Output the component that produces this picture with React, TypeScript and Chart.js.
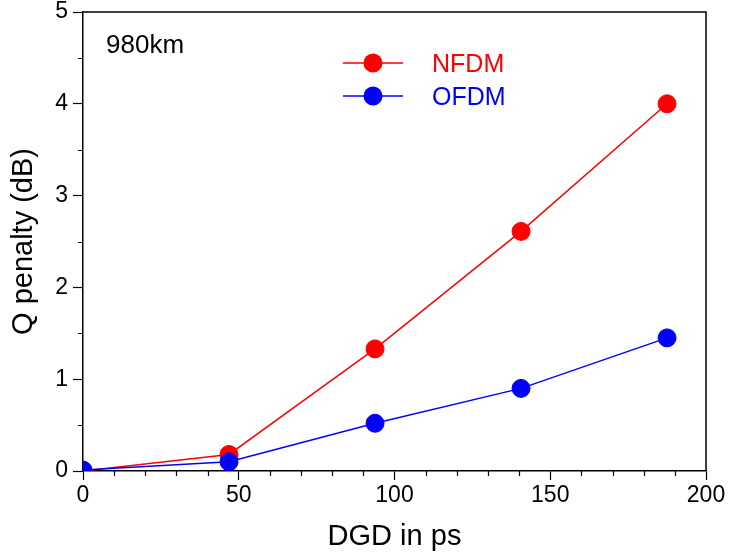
import React, { useEffect, useRef } from "react";
import { Chart, registerables } from "chart.js";

Chart.register(...registerables);

const dgd = [0, 46.875, 93.75, 140.625, 187.5];
const nfdm = [0, 0.18, 1.33, 2.61, 4.0];
const ofdm = [0.01, 0.1, 0.52, 0.9, 1.45];
const seriesNames = ["NFDM", "OFDM"];
const seriesColors = ["#ff0000", "#0000ff"];
const distanceLabel = "980km";
const xTitle = "DGD in ps";
const yTitle = "Q penalty (dB)";

const FONT = "'Liberation Sans', Arial, sans-serif";

const overlayPlugin = {
  id: "overlay",
  afterDraw(chart: any) {
    const { ctx, chartArea, scales } = chart;
    const x = scales.x;
    const y = scales.y;
    ctx.save();
    ctx.strokeStyle = "#000";
    ctx.lineWidth = 1.5;
    // top & right frame
    ctx.beginPath();
    ctx.moveTo(chartArea.left, chartArea.top);
    ctx.lineTo(chartArea.right, chartArea.top);
    ctx.lineTo(chartArea.right, chartArea.bottom);
    ctx.stroke();
    // minor ticks
    ctx.lineWidth = 1.2;
    ctx.beginPath();
    for (let v = 10; v < 200; v += 10) {
      if (v % 50 === 0) continue;
      const px = Math.round(x.getPixelForValue(v)) + 0.5;
      ctx.moveTo(px, chartArea.bottom);
      ctx.lineTo(px, chartArea.bottom + 5);
    }
    for (let v = 0.5; v < 5; v += 1) {
      const py = Math.round(y.getPixelForValue(v)) + 0.5;
      ctx.moveTo(chartArea.left, py);
      ctx.lineTo(chartArea.left - 5, py);
    }
    ctx.stroke();

    // label text
    ctx.fillStyle = "#000";
    ctx.font = `26px ${FONT}`;
    ctx.textBaseline = "alphabetic";
    ctx.textAlign = "left";
    ctx.fillText(distanceLabel, chartArea.left + 23, chartArea.top + 41);

    // legend
    const lx = chartArea.left + 260;
    const rowY = [chartArea.top + 51, chartArea.top + 84];
    seriesNames.forEach((name, i) => {
      const cy = rowY[i];
      ctx.strokeStyle = seriesColors[i];
      ctx.fillStyle = seriesColors[i];
      ctx.lineWidth = 1.5;
      ctx.beginPath();
      ctx.moveTo(lx, cy);
      ctx.lineTo(lx + 60, cy);
      ctx.stroke();
      ctx.beginPath();
      ctx.arc(lx + 30, cy, 9.5, 0, Math.PI * 2);
      ctx.fill();
      ctx.font = `25px ${FONT}`;
      ctx.fillText(name, lx + 89, cy + 9);
    });
    ctx.restore();
  },
};

export default function App() {
  const ref = useRef<HTMLCanvasElement>(null);
  useEffect(() => {
    document.body.style.margin = "0";
    const canvas = ref.current!;
    const chart = new Chart(canvas, {
      type: "line",
      data: {
        datasets: [
          {
            label: seriesNames[0],
            data: dgd.map((d, i) => ({ x: d, y: nfdm[i] })),
            borderColor: seriesColors[0],
            backgroundColor: seriesColors[0],
            pointBackgroundColor: seriesColors[0],
            pointBorderColor: seriesColors[0],
            borderWidth: 1.5,
            pointRadius: 9,
            pointBorderWidth: 1,
            tension: 0,
            order: 1,
          },
          {
            label: seriesNames[1],
            data: dgd.map((d, i) => ({ x: d, y: ofdm[i] })),
            borderColor: seriesColors[1],
            backgroundColor: seriesColors[1],
            pointBackgroundColor: seriesColors[1],
            pointBorderColor: seriesColors[1],
            borderWidth: 1.5,
            pointRadius: 9,
            pointBorderWidth: 1,
            tension: 0,
            order: 0,
          },
        ],
      },
      options: {
        responsive: false,
        animation: false,
        devicePixelRatio: 1,
        layout: { padding: { top: 12, right: 24, left: 0, bottom: 0 } },
        plugins: {
          legend: { display: false },
          tooltip: { enabled: false },
        },
        scales: {
          x: {
            type: "linear",
            min: 0,
            max: 200,
            ticks: {
              stepSize: 50,
              color: "#000",
              font: { family: FONT, size: 23 },
              padding: 2,
              maxRotation: 0,
            },
            grid: {
              display: true,
              drawOnChartArea: false,
              drawTicks: true,
              tickLength: 9,
              tickWidth: 1.2,
              tickColor: "#000",
            },
            border: { display: true, color: "#000", width: 1.5 },
            title: {
              display: true,
              text: xTitle,
              color: "#000",
              font: { family: FONT, size: 29 },
              padding: { top: 0, bottom: 3 },
            },
            afterFit(scale: any) {
              scale.height = 86;
              scale.paddingLeft = 0;
              scale.paddingRight = 0;
            },
          },
          y: {
            type: "linear",
            min: 0,
            max: 5,
            ticks: {
              stepSize: 1,
              color: "#000",
              font: { family: FONT, size: 23 },
              padding: 5,
            },
            grid: {
              display: true,
              drawOnChartArea: false,
              drawTicks: true,
              tickLength: 10,
              tickWidth: 1.2,
              tickColor: "#000",
            },
            border: { display: true, color: "#000", width: 1.5 },
            title: {
              display: true,
              text: yTitle,
              color: "#000",
              font: { family: FONT, size: 29 },
              padding: { top: 7, bottom: 0 },
            },
            afterFit(scale: any) {
              scale.width = 83;
              scale.paddingTop = 0;
              scale.paddingBottom = 0;
            },
          },
        },
      },
      plugins: [overlayPlugin],
    });
    return () => chart.destroy();
  }, []);
  return (
    <div style={{ width: 730, height: 557 }}>
      <canvas ref={ref} width={730} height={557} />
    </div>
  );
}
